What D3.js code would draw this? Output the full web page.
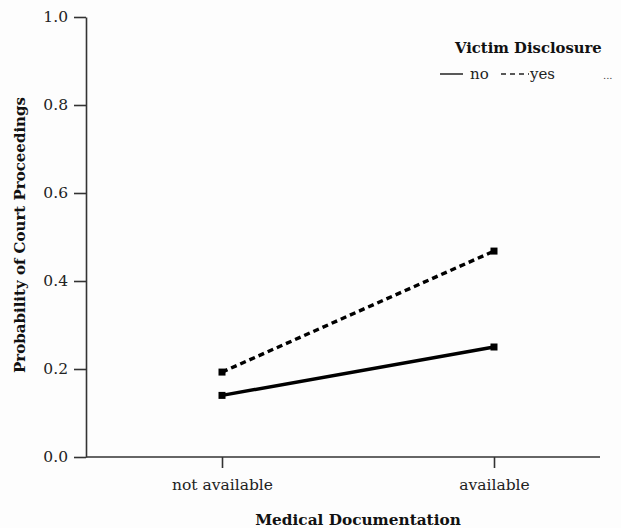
<!DOCTYPE html>
<html>
<head>
<meta charset="utf-8">
<script src="https://cdn.jsdelivr.net/npm/d3@7"></script>
<style>
  body { margin: 0; background: #fdfdfd; }
  svg { display: block; }
  .axis path, .axis line { stroke: #333; stroke-width: 1.6px; }
  .axis text { font-family: "DejaVu Serif", serif; font-size: 15.5px; fill: #222; }
</style>
</head>
<body>
<script>
// Data
var categories = ["not available", "available"];
var seriesNames = ["no", "yes"];
var noValues = [0.140, 0.250];
var yesValues = [0.193, 0.468];
var yTicks = [0.0, 0.2, 0.4, 0.6, 0.8, 1.0];

var width = 621, height = 528;
var margin = {top: 17, right: 21, bottom: 71, left: 86};
var innerW = width - margin.left - margin.right,
    innerH = height - margin.top - margin.bottom;

var svg = d3.select("body")
    .append("svg")
        .attr("width", width)
        .attr("height", height);

var g = svg.append("g")
    .attr("transform", "translate(" + margin.left + "," + margin.top + ")");

// Set the ranges
var x = d3.scalePoint().domain(categories).range([136, 408]);
var y = d3.scaleLinear().domain([0, 1]).range([innerH, 0]);

// Axes
g.append("g")
    .attr("class", "x axis")
    .attr("transform", "translate(0," + innerH + ")")
    .call(d3.axisBottom(x).tickSize(11).tickSizeOuter(0))
    .call(function(a) {
        a.select(".domain").attr("d", "M0,0H" + innerW);
        a.selectAll("text").attr("y", 22);
    });

g.append("g")
    .attr("class", "y axis")
    .call(d3.axisLeft(y).tickValues(yTicks).tickFormat(d3.format(".1f")).tickSize(12).tickSizeOuter(0))
    .call(function(a) {
        a.selectAll("text").attr("x", -18);
    });

// Lines
var line = d3.line()
    .x(function(d, i) { return x(categories[i]); })
    .y(function(d) { return y(d); });

var series = [
    {name: seriesNames[0], values: noValues, dash: null},
    {name: seriesNames[1], values: yesValues, dash: "6,4"}
];

series.forEach(function(s) {
    g.append("path")
        .attr("d", line(s.values))
        .attr("fill", "none")
        .attr("stroke", "#000")
        .attr("stroke-width", 3.4)
        .attr("stroke-dasharray", s.dash);

    g.selectAll(null)
        .data(s.values)
        .enter().append("rect")
        .attr("x", function(d, i) { return x(categories[i]) - 3.5; })
        .attr("y", function(d) { return y(d) - 3.5; })
        .attr("width", 7)
        .attr("height", 7)
        .attr("fill", "#000");
});

// Axis titles
svg.append("text")
    .attr("transform", "rotate(-90)")
    .attr("x", -(margin.top + innerH / 2) + 2)
    .attr("y", 25)
    .attr("text-anchor", "middle")
    .style("font-family", "DejaVu Serif, serif")
    .style("font-weight", "bold")
    .style("font-size", "15px")
    .attr("fill", "#111")
    .text("Probability of Court Proceedings");

svg.append("text")
    .attr("x", 358)
    .attr("y", 525)
    .attr("text-anchor", "middle")
    .style("font-family", "DejaVu Serif, serif")
    .style("font-weight", "bold")
    .style("font-size", "15.3px")
    .attr("fill", "#111")
    .text("Medical Documentation");

// Legend
var legend = svg.append("g").attr("transform", "translate(440,0)");
legend.append("text")
    .attr("x", 15)
    .attr("y", 53)
    .style("font-family", "DejaVu Serif, serif")
    .style("font-weight", "bold")
    .style("font-size", "14.8px")
    .attr("fill", "#111")
    .text("Victim Disclosure");

legend.append("line")
    .attr("x1", 0).attr("x2", 23).attr("y1", 74).attr("y2", 74)
    .attr("stroke", "#222").attr("stroke-width", 1.5);
legend.append("text")
    .attr("x", 30).attr("y", 79)
    .style("font-family", "DejaVu Serif, serif")
    .style("font-size", "15px")
    .attr("fill", "#222")
    .text(seriesNames[0]);

legend.append("line")
    .attr("x1", 61).attr("x2", 89).attr("y1", 74).attr("y2", 74)
    .attr("stroke", "#222").attr("stroke-width", 1.5)
    .attr("stroke-dasharray", "5,4");
legend.append("text")
    .attr("x", 90).attr("y", 79)
    .style("font-family", "DejaVu Serif, serif")
    .style("font-size", "15px")
    .attr("fill", "#222")
    .text(seriesNames[1]);

legend.append("text")
    .attr("x", 163).attr("y", 79)
    .style("font-family", "DejaVu Serif, serif")
    .style("font-size", "10px")
    .attr("fill", "#444")
    .text("...");
</script>
</body>
</html>
